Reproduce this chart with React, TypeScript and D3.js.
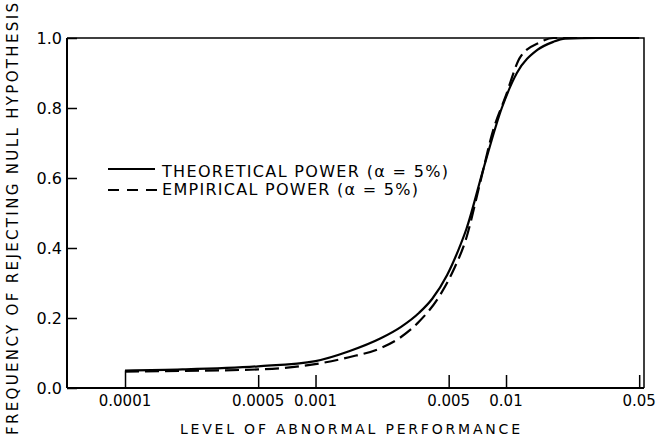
import { useEffect, useRef } from 'react'
import * as d3 from 'd3'

// theoretical power curve
const theoryLevel = [0.0001, 0.0002, 0.0005, 0.001, 0.0015, 0.0022, 0.0028, 0.0035, 0.0041, 0.0049, 0.0056, 0.0062, 0.0076, 0.0095, 0.0114, 0.0146, 0.0177, 0.0204, 0.03, 0.05]
const theoryPower = [0.05, 0.053, 0.062, 0.077, 0.105, 0.142, 0.174, 0.215, 0.255, 0.322, 0.392, 0.455, 0.625, 0.8, 0.9, 0.966, 0.989, 0.998, 1.0, 1.0]

// empirical power curve
const empiricalLevel = [0.0001, 0.0002, 0.0005, 0.00083, 0.0015, 0.0022, 0.0028, 0.0035, 0.0045, 0.0053, 0.0062, 0.0073, 0.0086, 0.0099, 0.0119, 0.0151, 0.0177, 0.03, 0.05]
const empiricalPower = [0.047, 0.049, 0.053, 0.062, 0.088, 0.114, 0.145, 0.19, 0.265, 0.337, 0.43, 0.585, 0.74, 0.83, 0.946, 0.988, 1.0, 1.0, 1.0]

const xTicks = [0.0001, 0.0005, 0.001, 0.005, 0.01, 0.05]
const xTickLabels = ['0.0001', '0.0005', '0.001', '0.005', '0.01', '0.05']
const yTicks = [0, 0.2, 0.4, 0.6, 0.8, 1.0]

const legendLabels = ['THEORETICAL POWER (\u03b1 = 5%)', 'EMPIRICAL POWER (\u03b1 = 5%)']

const width = 658
const height = 440
const margin = { top: 38, right: 14, bottom: 52, left: 67 }
const font = '"DejaVu Sans", Verdana, sans-serif'

const App = () => {
  const svgRef = useRef<SVGSVGElement>(null)

  useEffect(() => {
    if (!svgRef.current) return
    const svg = d3.select(svgRef.current)
    svg.selectAll('*').remove()

    const x = d3.scaleLog()
      .domain([0.0000496, 0.053])
      .range([margin.left, width - margin.right])

    const y = d3.scaleLinear()
      .domain([0, 1])
      .range([height - margin.bottom, margin.top])

    const x0 = margin.left
    const x1 = width - margin.right
    const y0 = height - margin.bottom
    const y1 = margin.top

    // frame
    svg.append('path')
      .attr('d', `M${x0},${y1}L${x1},${y1}L${x1},${y0}`)
      .attr('fill', 'none')
      .attr('stroke', '#000')
      .attr('stroke-width', 1.5)

    // axes
    const xAxis = d3.axisTop(x)
      .tickValues(xTicks)
      .tickSize(13)
      .tickFormat(() => '')

    const gx = svg.append('g')
      .attr('transform', `translate(0,${y0})`)
      .call(xAxis)
    gx.select('.domain').attr('stroke-width', 2).attr('d', `M${x0},0H${x1}`)
    gx.selectAll('.tick line').attr('stroke-width', 1.5)

    // first tick reaches up to the curves' start
    gx.selectAll<SVGLineElement, number>('.tick line')
      .filter(d => d === xTicks[0])
      .attr('y2', y(theoryPower[0]) - y0)

    const yAxis = d3.axisRight(y)
      .tickValues(yTicks)
      .tickSize(10)
      .tickFormat(() => '')

    const gy = svg.append('g')
      .attr('transform', `translate(${x0},0)`)
      .call(yAxis)
    gy.select('.domain').attr('stroke-width', 2).attr('d', `M0,${y0}V${y1}`)
    gy.selectAll('.tick line').attr('stroke-width', 1.5)

    // tick labels
    svg.append('g')
      .selectAll('text')
      .data(xTicks)
      .join('text')
      .attr('x', d => x(d))
      .attr('y', y0 + 18)
      .attr('text-anchor', 'middle')
      .attr('font-family', font)
      .attr('font-size', 15)
      .text((d, i) => xTickLabels[i])

    svg.append('g')
      .selectAll('text')
      .data(yTicks)
      .join('text')
      .attr('x', x0 - 5)
      .attr('y', d => y(d) + 6)
      .attr('text-anchor', 'end')
      .attr('font-family', font)
      .attr('font-size', 16)
      .text(d => d.toFixed(1))

    // axis titles
    svg.append('text')
      .attr('x', 180)
      .attr('y', 434)
      .attr('font-family', font)
      .attr('font-size', 14)
      .attr('textLength', 340)
      .attr('lengthAdjust', 'spacing')
      .text('LEVEL OF ABNORMAL PERFORMANCE')

    svg.append('text')
      .attr('transform', 'translate(18,435) rotate(-90)')
      .attr('font-family', font)
      .attr('font-size', 15)
      .attr('textLength', 432)
      .attr('lengthAdjust', 'spacing')
      .text('FREQUENCY OF REJECTING NULL HYPOTHESIS')

    // curves
    const line = d3.line<[number, number]>()
      .x(d => x(d[0]))
      .y(d => y(d[1]))
      .curve(d3.curveMonotoneX)

    const theory = theoryLevel.map((v, i) => [v, theoryPower[i]] as [number, number])
    const empirical = empiricalLevel.map((v, i) => [v, empiricalPower[i]] as [number, number])

    svg.append('path')
      .datum(empirical)
      .attr('fill', 'none')
      .attr('stroke', '#000')
      .attr('stroke-width', 2.2)
      .attr('stroke-dasharray', '14,6')
      .attr('d', line)

    svg.append('path')
      .datum(theory)
      .attr('fill', 'none')
      .attr('stroke', '#000')
      .attr('stroke-width', 2.2)
      .attr('d', line)

    // legend
    const legend = svg.append('g')
    legend.append('line')
      .attr('x1', 108).attr('x2', 155)
      .attr('y1', 169).attr('y2', 169)
      .attr('stroke', '#000')
      .attr('stroke-width', 2.2)
    legend.append('line')
      .attr('x1', 108).attr('x2', 157)
      .attr('y1', 190).attr('y2', 190)
      .attr('stroke', '#000')
      .attr('stroke-width', 2.2)
      .attr('stroke-dasharray', '11,8')

    legend.append('text')
      .attr('x', 162).attr('y', 176.5)
      .attr('font-family', font)
      .attr('font-size', 16)
      .attr('textLength', 286)
      .attr('lengthAdjust', 'spacing')
      .text(legendLabels[0])
    legend.append('text')
      .attr('x', 162).attr('y', 195)
      .attr('font-family', font)
      .attr('font-size', 16)
      .attr('textLength', 256)
      .attr('lengthAdjust', 'spacing')
      .text(legendLabels[1])
  }, [])

  return (
    <svg
      ref={svgRef}
      width={width}
      height={height}
      style={{ position: 'absolute', left: 0, top: 0, background: '#fff' }}
    />
  )
}

export default App
